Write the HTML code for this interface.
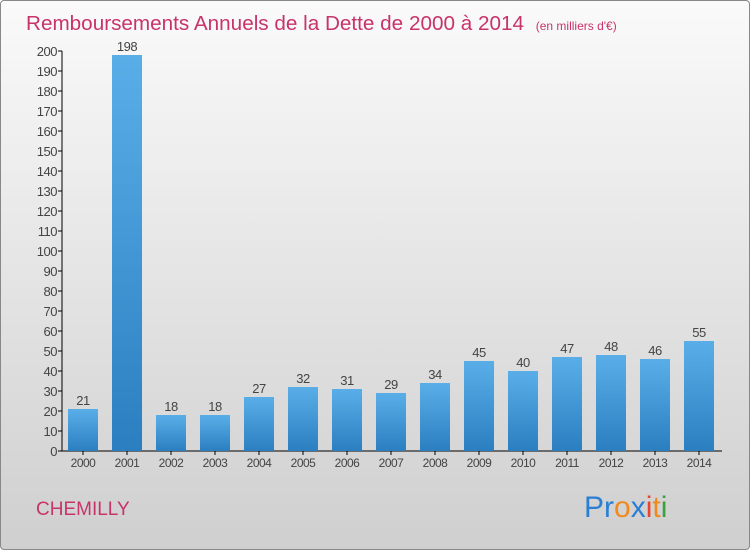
<!DOCTYPE html>
<html><head><meta charset="utf-8"><style>
body{margin:0;width:750px;height:550px;overflow:hidden}
#c{position:absolute;left:0;top:0;width:748px;height:548px;border:1px solid #888;border-radius:4px;background:linear-gradient(#fafafa,#cfcfcf)}
text{font-family:"Liberation Sans",sans-serif}
</style></head><body>
<div id="c">
<svg id="s" width="750" height="550">
<defs><linearGradient id="g" x1="0" y1="0" x2="0" y2="1"><stop offset="0" stop-color="#5aaee8"/><stop offset="1" stop-color="#2b7fc0"/></linearGradient></defs>
<text x="25" y="29" font-size="20.7" fill="#c8336a">Remboursements Annuels de la Dette de 2000 à 2014 <tspan font-size="12" dx="6">(en milliers d'€)</tspan></text>
<text x="35" y="514" font-size="19" fill="#c8336a">CHEMILLY</text>
<g font-size="30" font-family="'DejaVu Sans',sans-serif">
<text x="583" y="516"><tspan fill="#2a7fd4">Pr</tspan><tspan fill="#f08a1c">o</tspan><tspan fill="#2a7fd4">x</tspan><tspan fill="#e8452c">i</tspan><tspan fill="#f08a1c">t</tspan><tspan fill="#3aa040">i</tspan></text></g>
<g id="ax"></g><g id="bars"></g>
</svg></div>
<script>
const categories=["2000","2001","2002","2003","2004","2005","2006","2007","2008","2009","2010","2011","2012","2013","2014"];
const values=[21,198,18,18,27,32,31,29,34,45,40,47,48,46,55];
const yTicks=[0,10,20,30,40,50,60,70,80,90,100,110,120,130,140,150,160,170,180,190,200];
const ns="http://www.w3.org/2000/svg";
const y=v=>450-v*2, x=i=>82+i*44;
const ax=document.getElementById('ax'), bars=document.getElementById('bars');
function mk(tag,at,p,txt){const e=document.createElementNS(ns,tag);for(const k in at)e.setAttribute(k,at[k]);if(txt!==undefined)e.textContent=txt;p.appendChild(e);return e;}
let l=mk('line',{x1:61,y1:50,x2:61,y2:450,stroke:'#000'},ax);


l=mk('line',{x1:61,y1:450,x2:721,y2:450,stroke:'#000'},ax);


yTicks.forEach(t=>{
 mk('line',{x1:57,y1:y(t),x2:61,y2:y(t),stroke:'#000'},ax);
 const e=mk('text',{x:56,y:y(t)+5,'font-size':13,'text-anchor':'end',fill:'#444','letter-spacing':'-0.5'},ax,t);
 
 
});
categories.forEach((c,i)=>{
 mk('line',{x1:x(i),y1:450,x2:x(i),y2:454,stroke:'#000'},ax);
 const e=mk('text',{x:x(i),y:466,'font-size':12,'text-anchor':'middle',fill:'#444','letter-spacing':'-0.5'},ax,c);
 
 
 const b=mk('rect',{x:x(i)-15,y:y(values[i]),width:30,height:values[i]*2,fill:'url(#g)'},bars);
 
 
 const v=mk('text',{x:x(i),y:y(values[i])-4,'font-size':13,'text-anchor':'middle',fill:'#444','letter-spacing':'-0.5'},bars,values[i]);
 
 
});
</script></body></html>
